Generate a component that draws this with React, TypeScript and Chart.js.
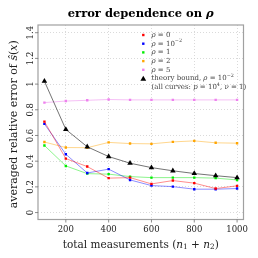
import React, { useEffect, useRef } from "react";
import { Chart, registerables } from "chart.js";
Chart.register(...registerables);

const measurements = [100, 200, 300, 400, 500, 600, 700, 800, 900, 1000];
const rho0 = [0.708, 0.42, 0.358, 0.268, 0.272, 0.223, 0.249, 0.229, 0.187, 0.208];
const rho1e2 = [0.69, 0.454, 0.308, 0.338, 0.254, 0.21, 0.202, 0.182, 0.182, 0.187];
const rho1 = [0.522, 0.363, 0.303, 0.299, 0.28, 0.272, 0.272, 0.272, 0.268, 0.254];
const rho2 = [0.549, 0.506, 0.505, 0.546, 0.537, 0.535, 0.55, 0.558, 0.543, 0.54];
const rho5 = [0.856, 0.868, 0.874, 0.88, 0.877, 0.877, 0.877, 0.877, 0.877, 0.877];
const theory = [1.022, 0.647, 0.512, 0.436, 0.384, 0.35, 0.325, 0.304, 0.287, 0.272];

const xTicks = [200, 400, 600, 800, 1000];
const xTickLabels = ["200", "400", "600", "800", "1000"];
const yTicks = [0, 0.2, 0.4, 0.6, 0.8, 1.0, 1.2, 1.4];
const yTickLabels = ["0", "0.2", "0.4", "0.6", "0.8", "1", "1.2", "1.4"];

const FONT = '"DejaVu Serif"';

type Seg = { t: string; it?: boolean; small?: boolean; dy?: number };

const legendEntries: { segs: Seg[]; color: string | null; tri?: boolean }[] = [
  { segs: [{ t: "ρ", it: true }, { t: " = 0" }], color: "#ff0000" },
  { segs: [{ t: "ρ", it: true }, { t: " = 10" }, { t: "−2", small: true, dy: -2.5 }], color: "#0000ff" },
  { segs: [{ t: "ρ", it: true }, { t: " = 1" }], color: "#00ee00" },
  { segs: [{ t: "ρ", it: true }, { t: " = 2" }], color: "#ffa500" },
  { segs: [{ t: "ρ", it: true }, { t: " = 5" }], color: "#ee82ee" },
  { segs: [{ t: "theory bound, " }, { t: "ρ", it: true }, { t: " = 10" }, { t: "−2", small: true, dy: -2.5 }], color: "#000000", tri: true },
  { segs: [{ t: "(all curves: " }, { t: "p", it: true }, { t: " = 10" }, { t: "4", small: true, dy: -2.5 }, { t: ", " }, { t: "ν", it: true }, { t: " = 1)" }], color: null },
];

function drawSegs(ctx: CanvasRenderingContext2D, segs: Seg[], x: number, y: number, size: number, bold: boolean, align: "left" | "center") {
  const fontOf = (s: Seg) => `${s.it ? "italic " : ""}${bold ? "bold " : ""}${s.small ? size * 0.7 : size}px ${FONT}`;
  let total = 0;
  for (const s of segs) {
    ctx.font = fontOf(s);
    total += ctx.measureText(s.t).width;
  }
  let cx = align === "center" ? x - total / 2 : x;
  ctx.textAlign = "left";
  for (const s of segs) {
    ctx.font = fontOf(s);
    ctx.fillText(s.t, cx, y + (s.dy || 0));
    cx += ctx.measureText(s.t).width;
  }
}

const decor = {
  id: "decor",
  afterDraw(chart: any) {
    const { ctx, chartArea: a, scales } = chart;
    const xs = scales.x;
    const ys = scales.y;
    ctx.save();
    // frame
    ctx.strokeStyle = "#a0a0a0";
    ctx.lineWidth = 1.2;
    ctx.strokeRect(a.left, a.top, a.right - a.left, a.bottom - a.top);
    // tick marks
    ctx.strokeStyle = "#707070";
    ctx.lineWidth = 0.8;
    ctx.beginPath();
    for (const v of yTicks) {
      const py = ys.getPixelForValue(v);
      ctx.moveTo(a.left, py);
      ctx.lineTo(a.left - 3, py);
    }
    for (const v of xTicks) {
      const px = xs.getPixelForValue(v);
      ctx.moveTo(px, a.bottom);
      ctx.lineTo(px, a.bottom + 3);
    }
    ctx.stroke();
    ctx.fillStyle = "#222";
    // y tick labels (rotated)
    ctx.font = `8.5px ${FONT}`;
    ctx.textBaseline = "alphabetic";
    ctx.textAlign = "center";
    yTicks.forEach((v, i) => {
      const py = ys.getPixelForValue(v);
      ctx.save();
      ctx.translate(a.left - 5, py);
      ctx.rotate(-Math.PI / 2);
      ctx.fillText(yTickLabels[i], 0, 0);
      ctx.restore();
    });
    // x tick labels
    ctx.textBaseline = "middle";
    xTicks.forEach((v, i) => {
      ctx.fillText(xTickLabels[i], xs.getPixelForValue(v), 229.5);
    });
    const cxp = (a.left + a.right) / 2;
    const cyp = (a.top + a.bottom) / 2;
    // x title
    ctx.textBaseline = "middle";
    drawSegs(
      ctx,
      [
        { t: "total measurements (" },
        { t: "n", it: true },
        { t: "1", small: true, dy: 2 },
        { t: " + " },
        { t: "n", it: true },
        { t: "2", small: true, dy: 2 },
        { t: ")" },
      ],
      cxp,
      245,
      10.5,
      false,
      "center"
    );
    // y title
    ctx.save();
    ctx.translate(16.5, cyp + 2);
    ctx.rotate(-Math.PI / 2);
    ctx.textBaseline = "alphabetic";
    drawSegs(
      ctx,
      [{ t: "averaged relative error of " }, { t: "ŝ", it: true }, { t: "(" }, { t: "x", it: true }, { t: ")" }],
      0,
      0,
      11,
      false,
      "center"
    );
    ctx.restore();
    // title
    ctx.fillStyle = "#000";
    ctx.textBaseline = "alphabetic";
    drawSegs(ctx, [{ t: "error dependence on " }, { t: "ρ", it: true }], cxp, 16.5, 11.5, true, "center");
    // legend
    legendEntries.forEach((e, i) => {
      const ly = 35 + i * 8.7;
      if (e.color) {
        ctx.fillStyle = e.color;
        if (e.tri) {
          ctx.beginPath();
          ctx.moveTo(143.3, ly - 2.8);
          ctx.lineTo(146.2, ly + 2.2);
          ctx.lineTo(140.4, ly + 2.2);
          ctx.closePath();
          ctx.fill();
        } else {
          ctx.fillRect(142.1, ly - 1.2, 2.4, 2.4);
        }
      }
      ctx.fillStyle = "#444";
      ctx.textBaseline = "middle";
      drawSegs(ctx, e.segs, 151.5, ly, 7, false, "left");
    });
    ctx.restore();
  },
};

function mk(label: string, data: number[], point: string, line: string, tri = false) {
  return {
    label,
    data: data.map((v, i) => ({ x: measurements[i], y: v })),
    borderColor: line,
    borderWidth: 1,
    backgroundColor: point,
    pointBackgroundColor: point,
    pointBorderColor: point,
    pointBorderWidth: 0,
    pointStyle: tri ? "triangle" : "rect",
    pointRadius: tri ? 3.2 : 1.7,
    tension: 0,
    fill: false,
  };
}

export default function App() {
  const ref = useRef<HTMLCanvasElement | null>(null);
  useEffect(() => {
    if (!ref.current) return;
    const chart = new Chart(ref.current, {
      type: "line",
      data: {
        datasets: [
          mk("theory", theory, "#000000", "rgba(0,0,0,0.55)", true),
          mk("rho0", rho0, "#ff0000", "rgba(255,0,0,0.45)"),
          mk("rho1e-2", rho1e2, "#0000ff", "rgba(0,0,255,0.45)"),
          mk("rho1", rho1, "#00ee00", "rgba(0,230,0,0.45)"),
          mk("rho2", rho2, "#ffa500", "rgba(255,165,0,0.45)"),
          mk("rho5", rho5, "#ee82ee", "rgba(238,130,238,0.5)"),
        ] as any,
      },
      options: {
        animation: false,
        responsive: false,
        devicePixelRatio: 1,
        layout: { padding: { left: 38, right: 14.5, top: 25, bottom: 38.5 } },
        plugins: { legend: { display: false }, tooltip: { enabled: false }, title: { display: false } },
        scales: {
          x: {
            type: "linear",
            min: 70,
            max: 1030,
            afterBuildTicks: (s: any) => {
              s.ticks = xTicks.map((v) => ({ value: v }));
            },
            ticks: { display: false },
            grid: { color: "#d0d0d0", lineWidth: 0.8, drawTicks: false },
            border: { display: false, dash: [1, 2] },
          },
          y: {
            type: "linear",
            min: -0.054,
            max: 1.46,
            afterBuildTicks: (s: any) => {
              s.ticks = yTicks.map((v) => ({ value: v }));
            },
            ticks: { display: false },
            grid: { color: "#d0d0d0", lineWidth: 0.8, drawTicks: false },
            border: { display: false, dash: [1, 2] },
          },
        },
      } as any,
      plugins: [decor],
    });
    return () => chart.destroy();
  }, []);
  return (
    <div style={{ position: "fixed", left: 0, top: 0, width: 258, height: 258, background: "#fff" }}>
      <canvas ref={ref} width={258} height={258} style={{ display: "block" }} />
    </div>
  );
}
